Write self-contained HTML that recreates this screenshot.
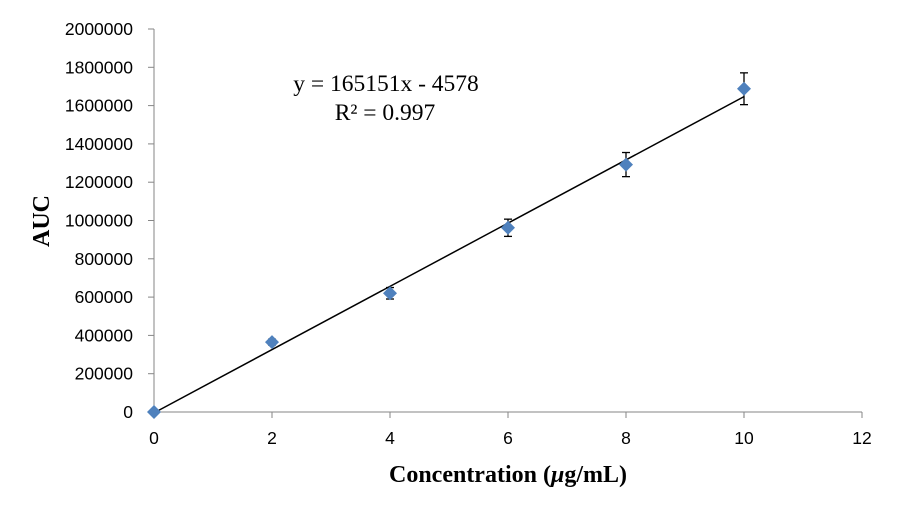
<!DOCTYPE html>
<html><head><meta charset="utf-8"><style>
body{margin:0;background:#fff}
svg{display:block;font-family:"Liberation Serif",serif}
</style></head><body>
<svg id="chart" width="897" height="507">
<g id="axes"></g><g id="marks"></g>
<text x="386" y="91" font-size="23.5" text-anchor="middle">y = 165151x - 4578</text>
<text x="385" y="120" font-size="23.5" text-anchor="middle">R² = 0.997</text>
<text x="508" y="482" font-size="24" font-weight="bold" text-anchor="middle">Concentration (<tspan font-style="italic">μ</tspan>g/mL)</text>
<text transform="translate(49,221) rotate(-90)" font-size="24" font-weight="bold" text-anchor="middle">AUC</text>
</svg>
<script>
const xVals=[0,2,4,6,8,10];
const yVals=[0,365000,620000,962000,1292000,1688000];
const errVals=[0,15000,30000,45000,63000,83000];
const xTicks=[0,2,4,6,8,10,12];
const yTicks=[0,200000,400000,600000,800000,1000000,1200000,1400000,1600000,1800000,2000000];
const slope=165151, intercept=-4578;
const NS="http://www.w3.org/2000/svg";
const X0=154,X1=862,Y0=412,Y1=29;
const sx=v=>X0+(v-0)/(12-0)*(X1-X0);
const sy=v=>Y0-(v-0)/(2000000-0)*(Y0-Y1);
function mk(t,a,p){const e=document.createElementNS(NS,t);for(const k in a)e.setAttribute(k,a[k]);p.appendChild(e);return e;}
const ax=document.getElementById('axes'),mg=document.getElementById('marks');
let l=mk('line',{x1:X0,y1:Y1,x2:X0,y2:Y0,stroke:'#868686','stroke-width':1},ax);


l=mk('line',{x1:X0,y1:Y0,x2:X1,y2:Y0,stroke:'#868686','stroke-width':1},ax);


yTicks.forEach(v=>{const y=sy(v);
 mk('line',{x1:X0-6,y1:y,x2:X0,y2:y,stroke:'#868686'},ax);
 const t=mk('text',{x:X0-21,y:y+6,'font-size':17.5,'font-family':'Liberation Sans, sans-serif','text-anchor':'end'},ax);t.textContent=v;
 
 });
xTicks.forEach(v=>{const x=sx(v);
 mk('line',{x1:x,y1:Y0,x2:x,y2:Y0+6,stroke:'#868686'},ax);
 const t=mk('text',{x:x,y:Y0+32,'font-size':17.5,'font-family':'Liberation Sans, sans-serif','text-anchor':'middle'},ax);t.textContent=v;
 
 });
const tl=mk('line',{x1:sx(0),y1:sy(intercept),x2:sx(10),y2:sy(slope*10+intercept),stroke:'#000','stroke-width':1.5},mg);


xVals.forEach((xv,i)=>{const x=sx(xv),y=sy(yVals[i]);
 if(errVals[i]>0){const g=mk('g',{stroke:'#000','stroke-width':1.3},mg);
  
  
  const yt=sy(yVals[i]+errVals[i]),yb=sy(yVals[i]-errVals[i]);
  mk('line',{x1:x,y1:yt,x2:x,y2:yb},g);mk('line',{x1:x-4,y1:yt,x2:x+4,y2:yt},g);mk('line',{x1:x-4,y1:yb,x2:x+4,y2:yb},g);}
 const d=mk('polygon',{points:`${x},${y-7} ${x+7},${y} ${x},${y+7} ${x-7},${y}`,fill:'#4F81BD'},mg);
 
 });
</script>
</body></html>
